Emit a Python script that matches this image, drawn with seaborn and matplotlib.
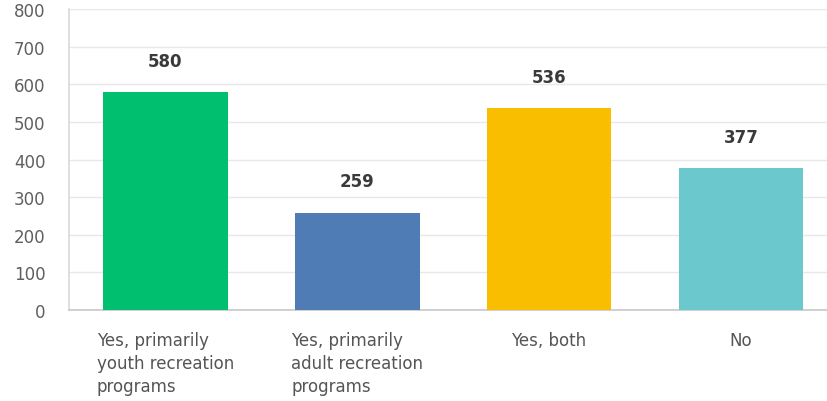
import matplotlib
matplotlib.use("Agg")
import matplotlib.pyplot as plt
import seaborn as sns
import pandas as pd

categories = [
    "Yes, primarily\nyouth recreation\nprograms",
    "Yes, primarily\nadult recreation\nprograms",
    "Yes, both",
    "No",
]
counts = [580, 259, 536, 377]
bar_colors = ["#00BF6F", "#507CB6", "#F9BE00", "#6BC8CD"]
y_ticks = [0, 100, 200, 300, 400, 500, 600, 700, 800]

df = pd.DataFrame({"category": categories, "count": counts})

sns.set_theme(style="white")
plt.rcParams["font.family"] = ["DejaVu Sans"]

fig = plt.figure(figsize=(8.27, 4.02), dpi=100)
ax = fig.add_axes([69 / 827, 91 / 402, 758 / 827, 301 / 402])

sns.barplot(
    data=df, x="category", y="count", hue="category",
    palette=bar_colors, legend=False, width=0.65,
    linewidth=0, saturation=1, ax=ax, zorder=3,
)

ax.set_xlim(-0.503, 3.449)
ax.set_ylim(0, 800)
ax.set_yticks(y_ticks)
ax.yaxis.grid(True, color="#e8e8e8", linewidth=1, zorder=0)
ax.xaxis.grid(False)
ax.set_xlabel("")
ax.set_ylabel("")

for side in ["top", "right"]:
    ax.spines[side].set_visible(False)
ax.spines["left"].set_color("#d9d9d9")
ax.spines["bottom"].set_color("#c8c8c8")
ax.spines["left"].set_linewidth(1.2)
ax.spines["bottom"].set_linewidth(1.2)

ax.tick_params(axis="y", length=0, pad=17, labelsize=12, labelcolor="#5f5f5f")
ax.tick_params(axis="x", length=0, pad=15, labelsize=12, labelcolor="#555555")
for lbl in ax.get_xticklabels():
    lbl.set_multialignment("left")
    lbl.set_linespacing(1.35)

for container in ax.containers:
    ax.bar_label(container, fmt="%d", padding=16, fontsize=12,
                 fontweight="bold", color="#3a3a3a")

fig.savefig("out.png", dpi=100)
